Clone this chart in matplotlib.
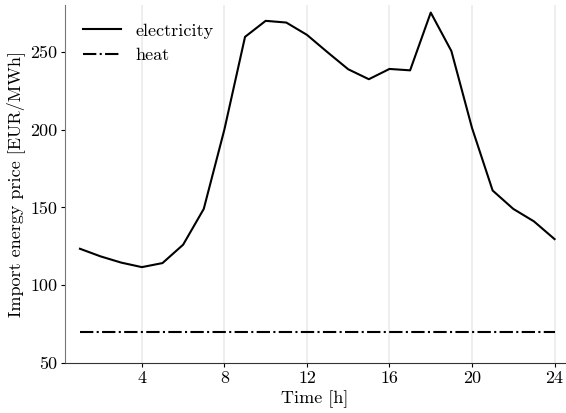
import matplotlib
matplotlib.use("Agg")
import matplotlib.pyplot as plt
import numpy as np

plt.rcParams['font.family'] = 'serif'
plt.rcParams['font.serif'] = ['cmr10']
plt.rcParams['mathtext.fontset'] = 'cm'
plt.rcParams['axes.unicode_minus'] = False
plt.rcParams['font.size'] = 13

# hourly import prices
hours = np.arange(1, 25)
electricity = [123.4, 118.5, 114.5, 111.6, 114.2, 126, 149, 200, 259.5, 269.8, 268.7, 260.8,
               249.6, 238.7, 232.3, 238.9, 238, 275.1, 250.4, 201, 160.8, 149, 141, 129.6]
heat = [70] * 24

fig = plt.figure(figsize=(5.66, 4.13), dpi=100)
ax = fig.add_axes([0.115, 0.121, 0.883, 0.867])

ax.plot(hours, electricity, color='black', lw=1.5, label='electricity')
ax.plot(hours, heat, color='black', lw=1.5, ls='-.', label='heat')

ax.set_xlim(0.28, 24.5)
ax.set_ylim(50, 280)
ax.set_xticks([4, 8, 12, 16, 20, 24])
ax.set_yticks([50, 100, 150, 200, 250])
ax.grid(axis='x', color='#ebebeb', lw=1.2)
ax.set_axisbelow(True)

for s in ['top', 'right']:
    ax.spines[s].set_visible(False)
ax.spines['left'].set_color('#777777')
ax.spines['bottom'].set_color('#333333')
ax.tick_params(length=3, pad=2.5)

ax.set_xlabel('Time [h]', labelpad=3)
ax.set_ylabel('Import energy price [EUR/MWh]', labelpad=4)
ax.legend(loc='upper left', frameon=False, handlelength=2.1, borderaxespad=0.6)

fig.savefig('out.png', dpi=100)
